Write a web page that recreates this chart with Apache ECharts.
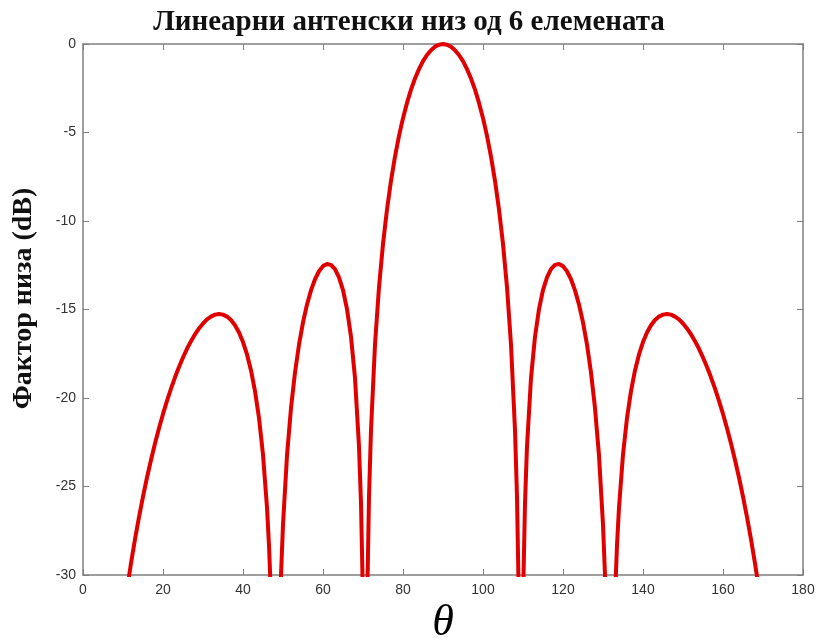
<!DOCTYPE html>
<html>
<head>
<meta charset="utf-8">
<script src="https://cdn.jsdelivr.net/npm/echarts@6/dist/echarts.min.js"></script>
<style>
html,body{margin:0;padding:0;background:#fff;}
#c{width:818px;height:640px;}
</style>
</head>
<body>
<div id="c"></div>
<script>
// Angle theta (degrees)
var thetaDeg = [
 10,11,12,13,14,15,16,17,18,19,20,21,22,23,24,25,26,27,28,29,30,
 31,32,33,34,35,36,37,38,39,40,41,42,43,44,45,46,46.5,47,47.5,48,48.5,49,49.5,50,
 51,52,53,54,55,56,57,58,59,60,61,62,63,64,65,66,67,68,69,69.5,70,70.5,71,71.5,72,
 73,74,75,76,77,78,79,80,81,82,83,84,85,86,87,88,89,90,
 91,92,93,94,95,96,97,98,99,100,101,102,103,104,105,106,107,108,108.5,109,109.5,110,110.5,
 111,112,113,114,115,116,117,118,119,120,121,122,123,124,125,126,127,128,129,130,130.5,131,131.5,132,132.5,133,133.5,
 134,135,136,137,138,139,140,141,142,143,144,145,146,147,148,149,150,
 151,152,153,154,155,156,157,158,159,160,161,162,163,164,165,166,167,168,169,170
];
// Array factor in dB (values below -30 are clipped by the axis)
var arrayFactorDb = [
 -32.48,-30.83,-29.34,-27.98,-26.73,-25.57,-24.49,-23.50,-22.57,-21.71,-20.90,-20.16,-19.47,-18.83,-18.25,-17.71,-17.22,-16.79,-16.40,-16.07,-15.79,
 -15.56,-15.40,-15.29,-15.25,-15.29,-15.40,-15.59,-15.89,-16.30,-16.84,-17.54,-18.44,-19.61,-21.13,-23.20,-26.19,-28.33,-31.26,-35.9,-47,-42.6,-34.24,-30.01,-27.15,
 -23.25,-20.57,-18.56,-16.99,-15.73,-14.72,-13.92,-13.29,-12.84,-12.55,-12.43,-12.48,-12.72,-13.18,-13.90,-14.98,-16.54,-18.87,-22.73,-25.94,-31.49,-58,-32.08,-25.60,-21.81,
 -16.98,-13.74,-11.30,-9.35,-7.73,-6.36,-5.19,-4.19,-3.33,-2.58,-1.95,-1.42,-0.97,-0.62,-0.35,-0.15,-0.04,0,
 -0.04,-0.15,-0.35,-0.62,-0.97,-1.42,-1.95,-2.58,-3.33,-4.19,-5.19,-6.36,-7.73,-9.35,-11.30,-13.74,-16.98,-21.81,-25.60,-32.08,-58,-31.49,-25.94,
 -22.73,-18.87,-16.54,-14.98,-13.90,-13.18,-12.72,-12.48,-12.43,-12.55,-12.84,-13.29,-13.92,-14.72,-15.73,-16.99,-18.56,-20.57,-23.25,-27.15,-30.01,-34.24,-42.6,-47,-35.9,-31.26,-28.33,
 -26.19,-23.20,-21.13,-19.61,-18.44,-17.54,-16.84,-16.30,-15.89,-15.59,-15.40,-15.29,-15.25,-15.29,-15.40,-15.56,-15.79,
 -16.07,-16.40,-16.79,-17.22,-17.71,-18.25,-18.83,-19.47,-20.16,-20.90,-21.71,-22.57,-23.50,-24.49,-25.57,-26.73,-27.98,-29.34,-30.83,-32.48
];
var xTicks = [0,20,40,60,80,100,120,140,160,180];
var yTicks = [0,-5,-10,-15,-20,-25,-30];

var titleText = 'Линеарни антенски низ од 6 елемената';
var yName = 'Фактор низа (dB)';
var xName = 'θ';

var pts = thetaDeg.map(function(t,i){ return [t, arrayFactorDb[i]]; });

var axisGrey = '#7f7f7f';
var labelStyle = {color:'#333', fontFamily:'Liberation Sans, Arial, sans-serif', fontSize:14};
var serif = 'Liberation Serif, Times New Roman, serif';

function frameAxis(extra){
  return Object.assign({
    axisLine:{show:true, onZero:false, lineStyle:{color:axisGrey, width:1.5}},
    axisTick:{show:true, inside:true, length:6, lineStyle:{color:axisGrey}},
    splitLine:{show:false}
  }, extra);
}

var chart = echarts.init(document.getElementById('c'), null, {renderer:'canvas'});
chart.setOption({
  backgroundColor:'#fff',
  animation:false,
  title:{
    text:titleText, left:'center', top:3,
    textStyle:{fontFamily:serif, fontWeight:'bold', fontSize:29, color:'#111'}
  },
  grid:{left:83, right:15, top:44, bottom:65, show:false, containLabel:false, outerBoundsMode:'none'},
  xAxis:[frameAxis({
    type:'value', min:xTicks[0], max:xTicks[xTicks.length-1], interval:20, position:'bottom',
    name:xName, nameLocation:'middle', nameGap:22,
    nameTextStyle:{fontFamily:serif, fontStyle:'italic', fontSize:44, color:'#000'},
    axisLabel:Object.assign({margin:8}, labelStyle)
  }), frameAxis({
    type:'value', position:'top', min:0, max:180, interval:20,
    axisLabel:{show:false}
  })],
  yAxis:[frameAxis({
    type:'value', min:yTicks[yTicks.length-1], max:yTicks[0], interval:5, position:'left',
    name:yName, nameLocation:'middle', nameGap:45,
    nameTextStyle:{fontFamily:serif, fontWeight:'bold', fontSize:28, color:'#111', padding:[0,0,0,22]},
    axisLabel:Object.assign({margin:7}, labelStyle)
  }), frameAxis({
    type:'value', position:'right', min:-30, max:0, interval:5,
    axisLabel:{show:false}
  })],
  series:[{
    type:'line', data:pts, xAxisIndex:0, yAxisIndex:0,
    showSymbol:false, clip:true,
    lineStyle:{color:'#e00000', width:4, join:'round'},
    itemStyle:{color:'#e00000'}
  }]
});
</script>
</body>
</html>
